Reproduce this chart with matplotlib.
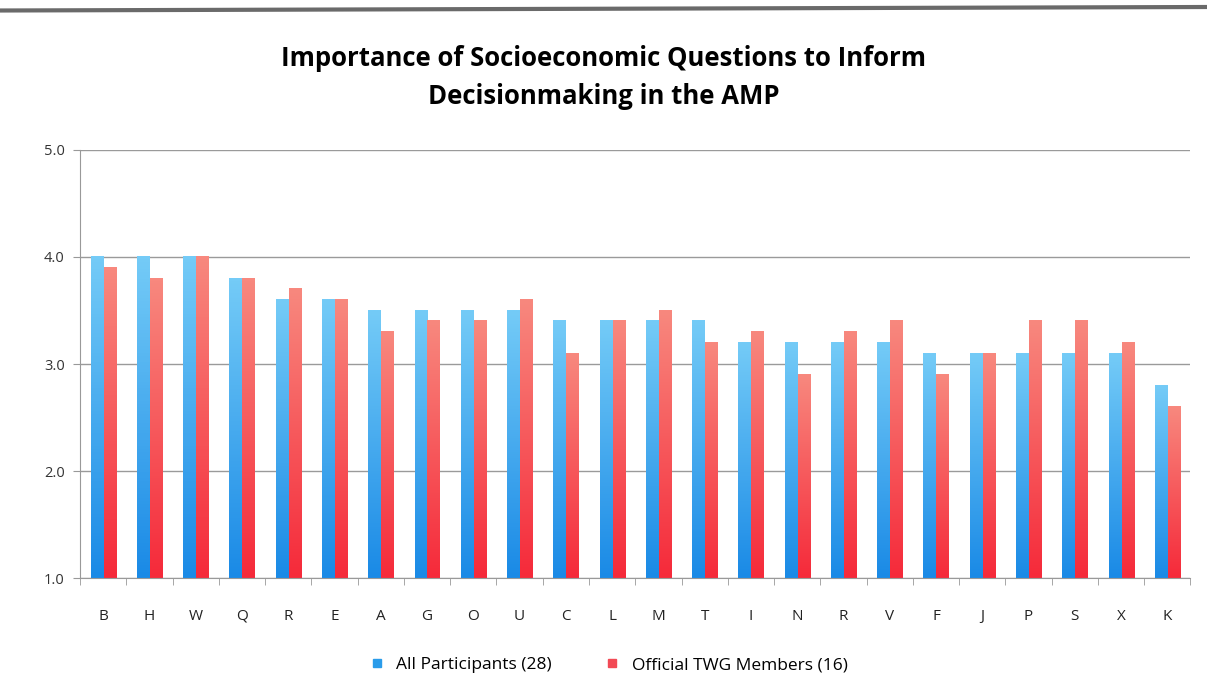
import numpy as np
import matplotlib.pyplot as plt
from matplotlib.colors import LinearSegmentedColormap
from matplotlib.lines import Line2D

# question codes in the order shown
questions = ["B", "H", "W", "Q", "R", "E", "A", "G", "O", "U", "C", "L",
             "M", "T", "I", "N", "R", "V", "F", "J", "P", "S", "X", "K"]
all_participants = [4.0, 4.0, 4.0, 3.8, 3.6, 3.6, 3.5, 3.5, 3.5, 3.5, 3.4, 3.4,
                    3.4, 3.4, 3.2, 3.2, 3.2, 3.2, 3.1, 3.1, 3.1, 3.1, 3.1, 2.8]
twg_members = [3.9, 3.8, 4.0, 3.8, 3.7, 3.6, 3.3, 3.4, 3.4, 3.6, 3.1, 3.4,
               3.5, 3.2, 3.3, 2.9, 3.3, 3.4, 2.9, 3.1, 3.4, 3.4, 3.2, 2.6]
yticks = [1.0, 2.0, 3.0, 4.0, 5.0]

plt.rcParams['font.family'] = ['Open Sans', 'DejaVu Sans']

fig = plt.figure(figsize=(12.07, 7.0), dpi=100)
ax = fig.add_axes([0.0663, 0.174, 0.92, 0.612])

blue_cm = LinearSegmentedColormap.from_list("b", ["#1a8ae6", "#74cbf7"])
red_cm = LinearSegmentedColormap.from_list("r", ["#f52a3a", "#f8887e"])
grad = np.linspace(0, 1, 100).reshape(-1, 1)

x = np.arange(len(questions))
w = 0.26
base = 1.0
for xi, v in zip(x, all_participants):
    ax.imshow(grad, extent=[xi - w - 0.01, xi - 0.01, base, v], origin="lower",
              cmap=blue_cm, aspect="auto", zorder=2)
for xi, v in zip(x, twg_members):
    ax.imshow(grad, extent=[xi + 0.01, xi + w + 0.01, base, v], origin="lower",
              cmap=red_cm, aspect="auto", zorder=2)

ax.set_xlim(-0.5, len(questions) - 0.5)
ax.set_ylim(1.0, 5.0)
ax.set_yticks(yticks)
ax.set_yticklabels([f"{t:.1f}" for t in yticks], fontsize=10.5, color="#333333")
ax.set_xticks(x)
ax.set_xticklabels(questions, fontsize=11, color="#222222")
ax.set_xticks(np.arange(len(questions) + 1) - 0.5, minor=True)
ax.tick_params(axis="x", which="major", length=0, pad=22)
ax.tick_params(axis="x", which="minor", length=5, color="#999999")
ax.tick_params(axis="y", length=5, color="#999999", pad=6)

ax.grid(axis="y", color="#9a9a9a", linewidth=1)
ax.set_axisbelow(True)
for s in ["top", "right"]:
    ax.spines[s].set_visible(False)
for s in ["left", "bottom"]:
    ax.spines[s].set_color("#999999")

fig.suptitle("Importance of Socioeconomic Questions to Inform\nDecisionmaking in the AMP",
             x=0.5, y=0.935, fontsize=18.5, fontweight="bold", linespacing=1.5)

handles = [Line2D([], [], marker="s", linestyle="", color="#2a9cea", markersize=6),
           Line2D([], [], marker="s", linestyle="", color="#f24a55", markersize=6)]
fig.legend(handles, ["All Participants (28)", "Official TWG Members (16)"],
           loc="center", bbox_to_anchor=(0.5, 0.05), ncol=2, frameon=False,
           fontsize=12.5, handletextpad=0.1, columnspacing=2.5)

# scan edge along the top
fig.add_artist(Line2D([0, 1], [0.985, 0.99], color="#6a6a6a", linewidth=3,
                      transform=fig.transFigure))

fig.savefig("out.png", dpi=100)
